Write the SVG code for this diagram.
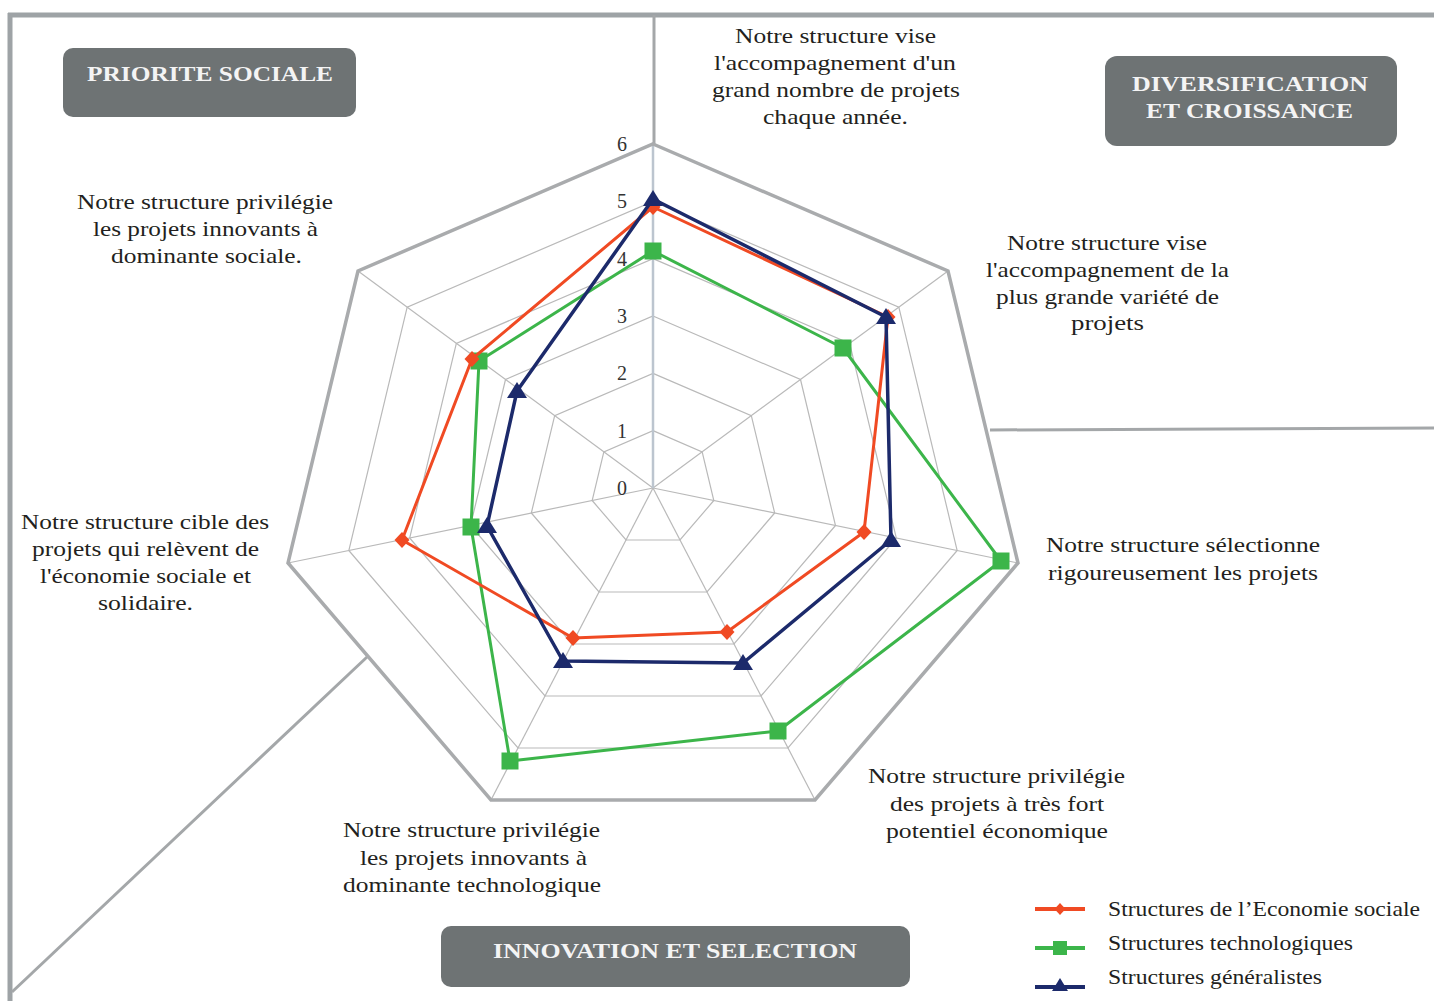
<svg xmlns="http://www.w3.org/2000/svg" xmlns:xlink="http://www.w3.org/1999/xlink" width="1434" height="1001" viewBox="0 0 1434 1001">
<style>
  .frame { stroke: #9ea3a6; stroke-width: 5; fill: none; }
  .divider { stroke: #a4a7a9; stroke-width: 3; fill: none; }
  .ring { stroke: #b9b9b9; stroke-width: 1.2; fill: none; }
  .outer { stroke: #a9abad; stroke-width: 3.5; fill: none; stroke-linejoin: miter; }
  .spoke { stroke: #b9b9b9; stroke-width: 1.2; }
  .spoke0 { stroke: #bcc5cf; stroke-width: 2.5; }
  .lbl { font-family: "Liberation Serif", "Times New Roman", serif; font-size: 22px; fill: #231f20; }
  .num { font-family: "Liberation Serif", "Times New Roman", serif; font-size: 20px; fill: #333333; text-anchor: end; }
  .boxr { fill: #6e7374; }
  .boxt { font-family: "Liberation Serif", "Times New Roman", serif; font-size: 22px; font-weight: bold; fill: #f4f4f4; }
  .red { stroke: #f04a23; stroke-width: 3; fill: none; stroke-linejoin: round; }
  .green { stroke: #3cb54a; stroke-width: 3; fill: none; stroke-linejoin: round; }
  .blue { stroke: #1c2a6b; stroke-width: 3.5; fill: none; stroke-linejoin: round; }
</style>
<defs>
  <path id="mDiamond" d="M0,-8 L7.5,0 L0,8 L-7.5,0Z" fill="#f04a23"/>
  <rect id="mSquare" x="-8.5" y="-8.5" width="17" height="17" fill="#3cb54a"/>
  <path id="mTriangle" d="M0,-9 L10,7 L-10,7Z" fill="#1c2a6b"/>
  <path id="lDiamond" d="M0,-6 L5.5,0 L0,6 L-5.5,0Z" fill="#f04a23"/>
  <rect id="lSquare" x="-7" y="-7" width="14" height="14" fill="#3cb54a"/>
  <path id="lTriangle" d="M0,-7 L8,6 L-8,6Z" fill="#1c2a6b"/>
</defs>
<rect width="1434" height="1001" fill="#ffffff"/>

<g id="frame">
  <line class="frame" x1="8" y1="15" x2="1434" y2="15"/>
  <line class="frame" x1="10" y1="13" x2="10" y2="1001"/>
</g>

<g id="connectors">
  <line class="divider" x1="654" y1="15" x2="654" y2="144"/>
  <line class="divider" x1="990" y1="430" x2="1434" y2="428"/>
  <line class="divider" x1="367" y1="657" x2="12" y2="992"/>
</g>

<g id="grid">
  <polygon class="ring" points="653,430.67 702.17,451.83 713.83,500.5 680,540 626,540 592.17,500.5 603.83,451.83"/>
  <polygon class="ring" points="653,373.33 751.33,415.67 774.67,513 707,592 599,592 531.33,513 554.67,415.67"/>
  <polygon class="ring" points="653,316 800.5,379.5 835.5,525.5 734,644 572,644 470.5,525.5 505.5,379.5"/>
  <polygon class="ring" points="653,258.67 849.67,343.33 896.33,538 761,696 545,696 409.67,538 456.33,343.33"/>
  <polygon class="ring" points="653,201.33 898.83,307.17 957.17,550.5 788,748 518,748 348.83,550.5 407.17,307.17"/>
  <line class="spoke" x1="653" y1="488" x2="948" y2="271"/>
  <line class="spoke" x1="653" y1="488" x2="1018" y2="563"/>
  <line class="spoke" x1="653" y1="488" x2="815" y2="800"/>
  <line class="spoke" x1="653" y1="488" x2="491" y2="800"/>
  <line class="spoke" x1="653" y1="488" x2="288" y2="563"/>
  <line class="spoke" x1="653" y1="488" x2="358" y2="271"/>
  <line class="spoke0" x1="653" y1="488" x2="653" y2="144"/>
  <polygon class="outer" points="653,144 948,271 1018,563 815,800 491,800 288,563 358,271"/>
</g>

<g id="scale">
  <text class="num" x="627" y="151">6</text>
  <text class="num" x="627" y="208">5</text>
  <text class="num" x="627" y="266">4</text>
  <text class="num" x="627" y="323">3</text>
  <text class="num" x="627" y="380">2</text>
  <text class="num" x="627" y="438">1</text>
  <text class="num" x="627" y="495">0</text>
</g>

<g id="series-technologiques">
  <polygon class="green" points="653,251 843,348 1001,561 778,731 510,761 471,527 479,361"/>
  <use xlink:href="#mSquare" x="653" y="251"/>
  <use xlink:href="#mSquare" x="843" y="348"/>
  <use xlink:href="#mSquare" x="1001" y="561"/>
  <use xlink:href="#mSquare" x="778" y="731"/>
  <use xlink:href="#mSquare" x="510" y="761"/>
  <use xlink:href="#mSquare" x="471" y="527"/>
  <use xlink:href="#mSquare" x="479" y="361"/>
</g>

<g id="series-economie-sociale">
  <polygon class="red" points="653,207 888,317 864,532 727,632 573,638 402,540 472,359"/>
  <use xlink:href="#mDiamond" x="653" y="207"/>
  <use xlink:href="#mDiamond" x="888" y="317"/>
  <use xlink:href="#mDiamond" x="864" y="532"/>
  <use xlink:href="#mDiamond" x="727" y="632"/>
  <use xlink:href="#mDiamond" x="573" y="638"/>
  <use xlink:href="#mDiamond" x="402" y="540"/>
  <use xlink:href="#mDiamond" x="472" y="359"/>
</g>

<g id="series-generalistes">
  <polygon class="blue" points="653,199 886,317 891,540 743,663 563,661 487,526 517,391"/>
  <use xlink:href="#mTriangle" x="653" y="199"/>
  <use xlink:href="#mTriangle" x="886" y="317"/>
  <use xlink:href="#mTriangle" x="891" y="540"/>
  <use xlink:href="#mTriangle" x="743" y="663"/>
  <use xlink:href="#mTriangle" x="563" y="661"/>
  <use xlink:href="#mTriangle" x="487" y="526"/>
  <use xlink:href="#mTriangle" x="517" y="391"/>
</g>

<g id="label-axis-0">
  <text class="lbl" x="735" y="43" textLength="201" lengthAdjust="spacingAndGlyphs">Notre structure vise</text>
  <text class="lbl" x="714" y="70" textLength="242" lengthAdjust="spacingAndGlyphs">l'accompagnement d'un</text>
  <text class="lbl" x="712" y="97" textLength="248" lengthAdjust="spacingAndGlyphs">grand nombre de projets</text>
  <text class="lbl" x="763" y="124" textLength="145" lengthAdjust="spacingAndGlyphs">chaque année.</text>
</g>

<g id="label-axis-1">
  <text class="lbl" x="1007" y="250" textLength="200" lengthAdjust="spacingAndGlyphs">Notre structure vise</text>
  <text class="lbl" x="986" y="277" textLength="243" lengthAdjust="spacingAndGlyphs">l'accompagnement de la</text>
  <text class="lbl" x="996" y="304" textLength="223" lengthAdjust="spacingAndGlyphs">plus grande variété de</text>
  <text class="lbl" x="1071" y="330" textLength="73" lengthAdjust="spacingAndGlyphs">projets</text>
</g>

<g id="label-axis-2">
  <text class="lbl" x="1046" y="552" textLength="274" lengthAdjust="spacingAndGlyphs">Notre structure sélectionne</text>
  <text class="lbl" x="1048" y="580" textLength="270" lengthAdjust="spacingAndGlyphs">rigoureusement les projets</text>
</g>

<g id="label-axis-3">
  <text class="lbl" x="868" y="783" textLength="257" lengthAdjust="spacingAndGlyphs">Notre structure privilégie</text>
  <text class="lbl" x="890" y="811" textLength="214" lengthAdjust="spacingAndGlyphs">des projets à très fort</text>
  <text class="lbl" x="886" y="838" textLength="222" lengthAdjust="spacingAndGlyphs">potentiel économique</text>
</g>

<g id="label-axis-4">
  <text class="lbl" x="343" y="837" textLength="257" lengthAdjust="spacingAndGlyphs">Notre structure privilégie</text>
  <text class="lbl" x="360" y="865" textLength="227" lengthAdjust="spacingAndGlyphs">les projets innovants à</text>
  <text class="lbl" x="343" y="892" textLength="258" lengthAdjust="spacingAndGlyphs">dominante technologique</text>
</g>

<g id="label-axis-5">
  <text class="lbl" x="21" y="529" textLength="248" lengthAdjust="spacingAndGlyphs">Notre structure cible des</text>
  <text class="lbl" x="32" y="556" textLength="227" lengthAdjust="spacingAndGlyphs">projets qui relèvent de</text>
  <text class="lbl" x="40" y="583" textLength="211" lengthAdjust="spacingAndGlyphs">l'économie sociale et</text>
  <text class="lbl" x="98" y="610" textLength="95" lengthAdjust="spacingAndGlyphs">solidaire.</text>
</g>

<g id="label-axis-6">
  <text class="lbl" x="77" y="209" textLength="256" lengthAdjust="spacingAndGlyphs">Notre structure privilégie</text>
  <text class="lbl" x="93" y="236" textLength="225" lengthAdjust="spacingAndGlyphs">les projets innovants à</text>
  <text class="lbl" x="111" y="263" textLength="191" lengthAdjust="spacingAndGlyphs">dominante sociale.</text>
</g>

<g id="box-priorite-sociale">
  <rect class="boxr" x="63" y="48" width="293" height="69" rx="10" ry="10"/>
  <text class="boxt" x="87" y="81" textLength="246" lengthAdjust="spacingAndGlyphs">PRIORITE SOCIALE</text>
</g>

<g id="box-diversification">
  <rect class="boxr" x="1105" y="56" width="292" height="90" rx="12" ry="12"/>
  <text class="boxt" x="1132" y="91" textLength="236" lengthAdjust="spacingAndGlyphs">DIVERSIFICATION</text>
  <text class="boxt" x="1146" y="118" textLength="207" lengthAdjust="spacingAndGlyphs">ET CROISSANCE</text>
</g>

<g id="box-innovation">
  <rect class="boxr" x="441" y="926" width="469" height="61" rx="10" ry="10"/>
  <text class="boxt" x="493" y="958" textLength="364" lengthAdjust="spacingAndGlyphs">INNOVATION ET SELECTION</text>
</g>

<g id="legend">
  <line x1="1035" y1="909" x2="1085" y2="909" stroke="#f04a23" stroke-width="4"/>
  <use xlink:href="#lDiamond" x="1060" y="909"/>
  <text class="lbl" x="1108" y="916" textLength="312" lengthAdjust="spacingAndGlyphs">Structures de l’Economie sociale</text>
  <line x1="1035" y1="948" x2="1085" y2="948" stroke="#3cb54a" stroke-width="4"/>
  <use xlink:href="#lSquare" x="1060" y="948"/>
  <text class="lbl" x="1108" y="950" textLength="245" lengthAdjust="spacingAndGlyphs">Structures technologiques</text>
  <line x1="1035" y1="987" x2="1085" y2="987" stroke="#1c2a6b" stroke-width="4"/>
  <use xlink:href="#lTriangle" x="1060" y="985"/>
  <text class="lbl" x="1108" y="984" textLength="214" lengthAdjust="spacingAndGlyphs">Structures généralistes</text>
</g>
</svg>
